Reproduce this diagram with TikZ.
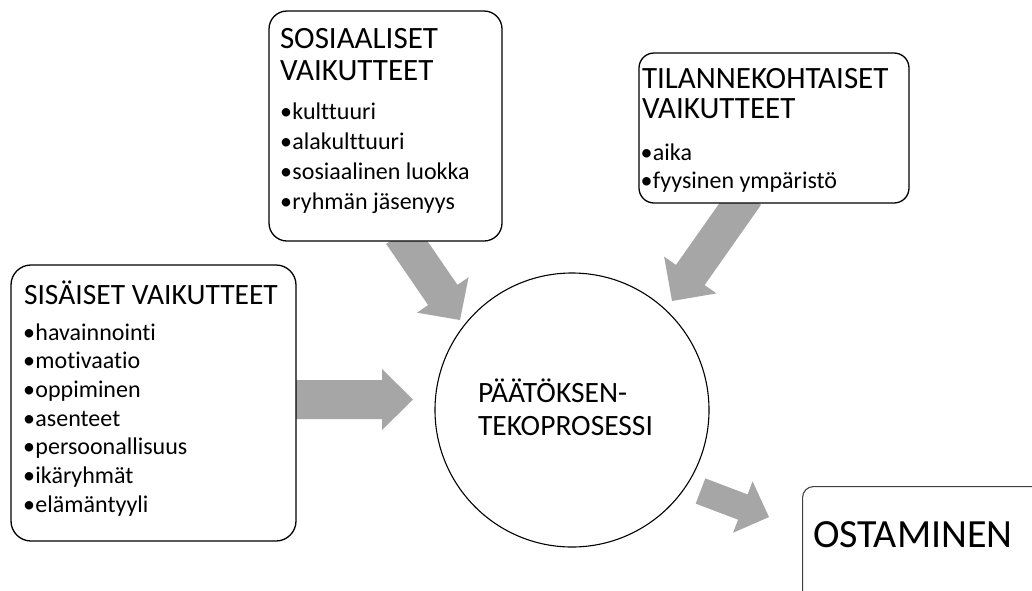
\documentclass[tikz,border=0pt]{standalone}
\usepackage{fontspec}
\setmainfont{Carlito}[Ligatures={NoCommon}]
\usetikzlibrary{calc}
\definecolor{arrowgray}{RGB}{166,166,166}
\definecolor{ostline}{RGB}{64,64,64}
\newcommand\fhead{\fontsize{31pt}{32pt}\selectfont}
\newcommand\fheadL{\fontsize{29.5pt}{30pt}\selectfont}
\newcommand\fitem{\fontsize{24pt}{25pt}\selectfont}
\newcommand\fbig{\fontsize{40pt}{41pt}\selectfont}
\newcommand\itm[1]{\makebox[12.5pt][l]{•}#1}
% block arrow: #1 start coord, #2 tip coord, #3 half body width, #4 half head width, #5 head length
\newcommand\blockarr[5]{%
  \coordinate (#1H) at ($(#2)!#5!(#1)$);
  \fill[arrowfill] ($(#1)!#3!90:(#2)$) -- ($(#1H)!#3!90:(#2)$) -- ($(#1H)!#4!90:(#2)$)
    -- (#2) -- ($(#1H)!#4!-90:(#2)$) -- ($(#1H)!#3!-90:(#2)$) -- ($(#1)!#3!-90:(#2)$) -- cycle;
}
\tikzset{
  arrowfill/.style={fill=arrowgray},
  roundbox/.style={draw=black, line width=1.3pt, fill=white, rounded corners=#1, inner sep=0pt},
  txt/.style={anchor=base west, inner sep=0pt, outer sep=0pt},
}
\begin{document}
\begin{tikzpicture}[x=1pt,y=-1pt]
\useasboundingbox (0,0) rectangle (1032,590);
\clip (0,0) rectangle (1032,590);
\fill[white] (0,0) rectangle (1032,590);

% arrow end points
\coordinate (la) at (290,399.5);  \coordinate (lb) at (413,399.5);
\coordinate (sa) at (400.8,233.8); \coordinate (sb) at (460,320);
\coordinate (ta) at (746.7,194.8); \coordinate (tb) at (672,301);
\coordinate (oa) at (700.5,491);  \coordinate (ob) at (769,517);
\blockarr{la}{lb}{19.5pt}{30.5pt}{31pt}
\blockarr{sa}{sb}{17.8pt}{31.3pt}{30.4pt}
\blockarr{ta}{tb}{17.5pt}{32pt}{31.8pt}
\blockarr{oa}{ob}{13.5pt}{27.5pt}{28pt}

% boxes
\node[roundbox=18pt, minimum width=233pt, minimum height=230pt] (social) at (385.5,126) {};
\node[roundbox=15pt, minimum width=270pt, minimum height=150pt] (situ) at (774,128) {};
\node[roundbox=20pt, minimum width=285pt, minimum height=276pt] (inner) at (153.5,403) {};
\node[draw=black, line width=1.1pt, circle, minimum size=274pt, inner sep=0pt] (proc) at (572,410) {};
\node[draw=ostline, line width=1.1pt, rounded corners=11pt, minimum width=260pt, minimum height=130pt, inner sep=0pt, anchor=north west] (buy) at (802,486) {};

% social texts
\node[txt, font=\fhead] (s1) at (280,48) {SOSIAALISET};
\node[txt, font=\fhead] (s2) at (280,80) {VAIKUTTEET};
\foreach \t [count=\i] in {kulttuuri, alakulttuuri, sosiaalinen luokka, ryhmän jäsenyys}
  \node[txt, font=\fitem] (si\i) at (280,{119+30.2*(\i-1)}) {\itm{\t}};

% situational texts
\node[txt, font=\fhead] (t1) at (642,88) {TILANNEKOHTAISET};
\node[txt, font=\fhead] (t2) at (642,118) {VAIKUTTEET};
\foreach \t [count=\i] in {aika, fyysinen ympäristö}
  \node[txt, font=\fitem] (ti\i) at (640.5,{160+28.5*(\i-1)}) {\itm{\t}};

% internal texts
\node[txt, font=\fheadL] (i1) at (24,304) {SISÄISET VAIKUTTEET};
\foreach \t [count=\i] in {havainnointi, motivaatio, oppiminen, asenteet, persoonallisuus, ikäryhmät, elämäntyyli}
  \node[txt, font=\fitem] (ii\i) at (23,{340+28.7*(\i-1)}) {\itm{\t}};

% process text
\node[txt, font=\fheadL] (p1) at (478,402) {PÄÄTÖKSEN-};
\node[txt, font=\fheadL] (p2) at (478,435) {TEKOPROSESSI};

% buying
\node[txt, font=\fbig] (o1) at (813,547) {OSTAMINEN};
\end{tikzpicture}
\end{document}
